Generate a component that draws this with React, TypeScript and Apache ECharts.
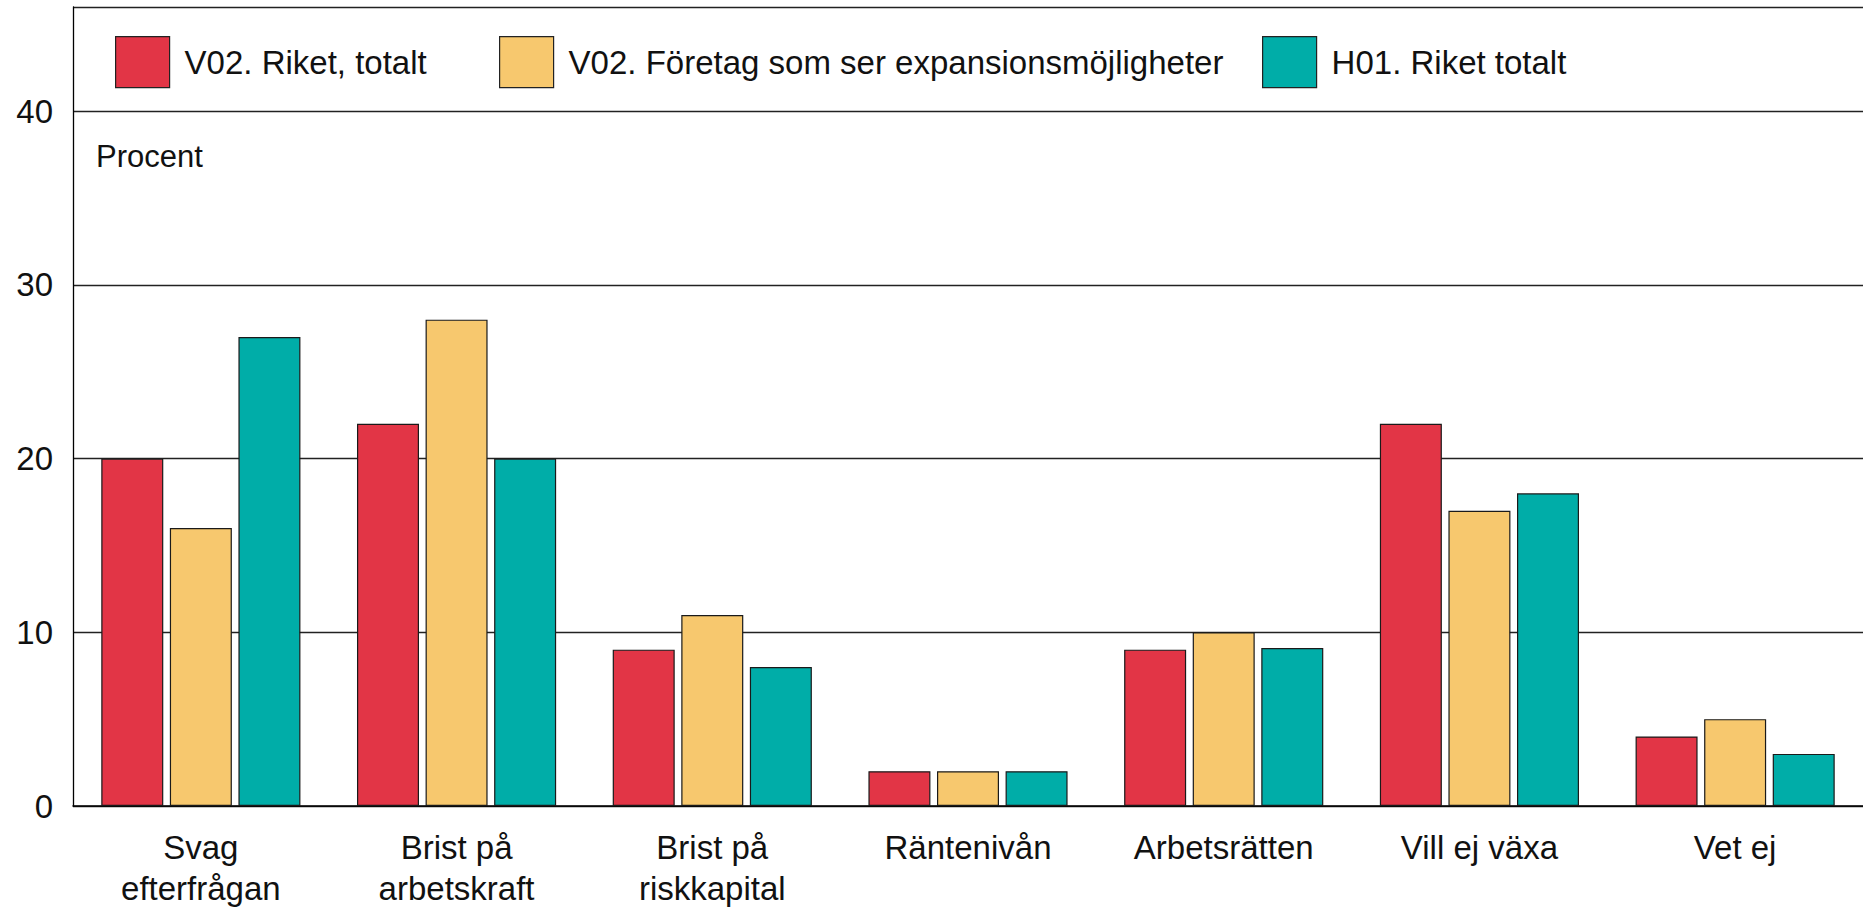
import React, { useEffect, useRef } from "react";
import * as echarts from "echarts";

const categories = [
  "Svag\nefterfrågan",
  "Brist på\narbetskraft",
  "Brist på\nriskkapital",
  "Räntenivån",
  "Arbetsrätten",
  "Vill ej växa",
  "Vet ej",
];
const seriesNames = [
  "V02. Riket, totalt",
  "V02. Företag som ser expansionsmöjligheter",
  "H01. Riket totalt",
];
const v02Total = [20, 22, 9, 2, 9, 22, 4];
const v02Expansion = [16, 28, 11, 2, 10, 17, 5];
const h01Total = [27, 20, 8, 2, 9.1, 18, 3];
const seriesValues = [v02Total, v02Expansion, h01Total];
const seriesColors = ["#E23546", "#F7C86E", "#00ADA8"];
const yMin = 0;
const yMax = 46;
const yInterval = 10;
const unitLabel = "Procent";

const FONT = "'Liberation Sans', Arial, sans-serif";
const legendLefts = [115, 499, 1262];

export default function App() {
  const ref = useRef<HTMLDivElement>(null);
  useEffect(() => {
    if (!ref.current) return;
    const chart = echarts.init(ref.current, undefined, { renderer: "svg" });
    chart.setOption({
      animation: false,
      backgroundColor: "#ffffff",
      textStyle: { fontFamily: FONT },
      grid: { left: 73, top: 7, width: 1796, height: 800 },
      legend: seriesNames.map((n, i) => ({
        data: [n],
        icon: "rect",
        left: legendLefts[i],
        top: 36,
        padding: 0,
        itemWidth: 54,
        itemHeight: 51,
        itemStyle: { borderColor: "#222", borderWidth: 1.2 },
        textStyle: {
          fontFamily: FONT,
          fontSize: 33,
          color: "#111",
          padding: [0, 0, 0, 10],
        },
        selectedMode: false,
      })),
      xAxis: {
        type: "category",
        data: categories,
        axisLine: { show: true, lineStyle: { color: "#000", width: 1.5 } },
        axisTick: { show: false },
        axisLabel: {
          fontFamily: FONT,
          fontSize: 33,
          color: "#111",
          lineHeight: 41,
          margin: 21,
          interval: 0,
        },
      },
      yAxis: {
        type: "value",
        min: yMin,
        max: yMax,
        interval: yInterval,
        axisLine: { show: true, lineStyle: { color: "#000", width: 1.3 } },
        axisTick: { show: false },
        splitLine: { show: true, lineStyle: { color: "#222", width: 1.3 } },
        axisLabel: {
          fontFamily: FONT,
          fontSize: 33,
          color: "#111",
          margin: 20,
          showMaxLabel: false,
        },
      },
      graphic: [
        {
          type: "text",
          left: 96,
          top: 141,
          style: { text: unitLabel, fontFamily: FONT, fontSize: 31, fill: "#111" },
        },
      ],
      series: seriesNames.map((n, i) => ({
        name: n,
        type: "bar",
        data: seriesValues[i],
        barWidth: 62,
        barGap: "10.6%",
        barCategoryGap: "22%",
        itemStyle: { color: seriesColors[i], borderColor: "#1a1a1a", borderWidth: 1.2 },
      })),
    });
    return () => chart.dispose();
  }, []);
  return (
    <div
      ref={ref}
      style={{ position: "fixed", left: 0, top: 0, width: 1863, height: 909, background: "#fff" }}
    />
  );
}
